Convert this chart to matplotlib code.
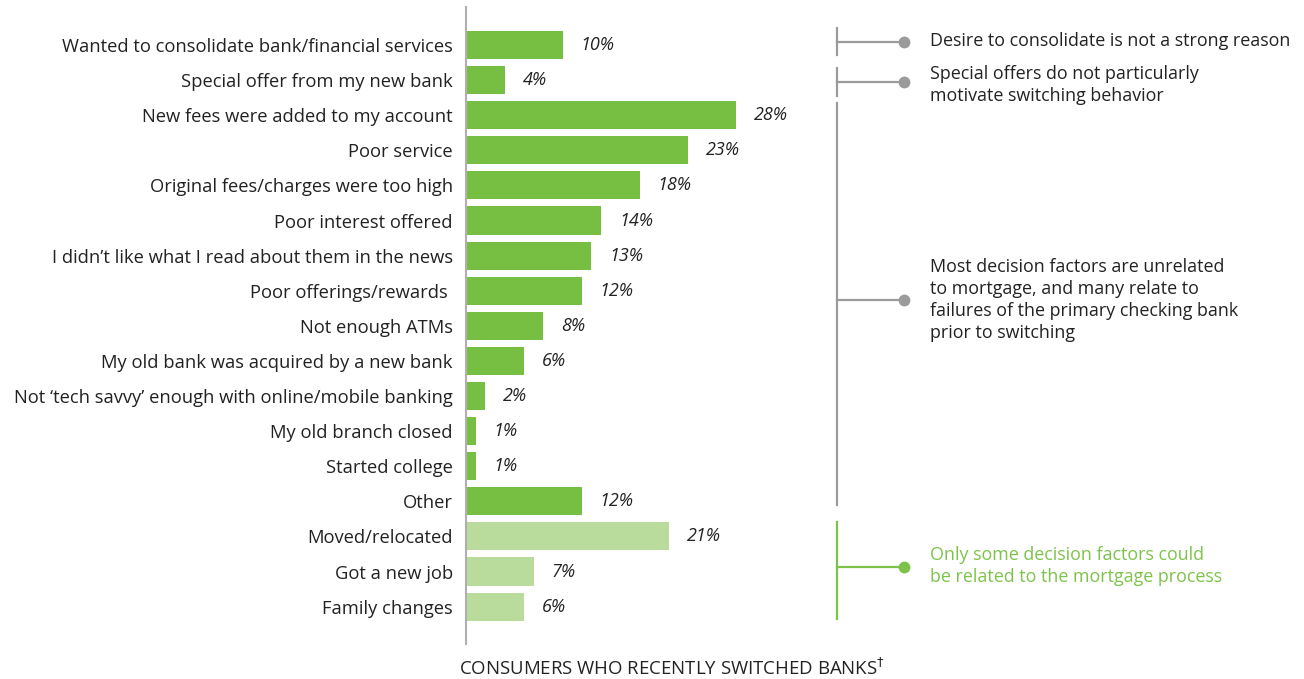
import matplotlib.pyplot as plt

plt.rcParams['font.family'] = ['Open Sans', 'DejaVu Sans']

reasons = [
    "Wanted to consolidate bank/financial services",
    "Special offer from my new bank",
    "New fees were added to my account",
    "Poor service",
    "Original fees/charges were too high",
    "Poor interest offered",
    "I didn\u2019t like what I read about them in the news",
    "Poor offerings/rewards ",
    "Not enough ATMs",
    "My old bank was acquired by a new bank",
    "Not \u2018tech savvy\u2019 enough with online/mobile banking",
    "My old branch closed",
    "Started college",
    "Other",
    "Moved/relocated",
    "Got a new job",
    "Family changes",
]
shares = [10, 4, 28, 23, 18, 14, 13, 12, 8, 6, 2, 1, 1, 12, 21, 7, 6]
# last three reasons could be tied to a mortgage / move
mortgage_related = [False] * 14 + [True] * 3

note_texts = [
    "Desire to consolidate is not a strong reason",
    "Special offers do not particularly\nmotivate switching behavior",
    "Most decision factors are unrelated\nto mortgage, and many relate to\n"
    "failures of the primary checking bank\nprior to switching",
    "Only some decision factors could\nbe related to the mortgage process",
]
GRAY = "#9b9b9b"
DARK = "#76bf43"
LIGHT = "#b9dc9d"
NOTE_GREEN = "#7dc34a"
TEXT = "#222222"

W, H = 1304, 679
ROW = 35.1   # pixel pitch of one bar row
TOP = 45     # pixel centre of first row


def row(ypix):
    return (ypix - TOP) / ROW


# bracket spans (top, bottom, elbow) in rows, and colours
note_spans = [(row(28), row(55), row(42)),
              (row(68), row(96), row(82)),
              (row(103), row(505), row(300)),
              (row(522), row(619), row(567))]
note_text_y = [row(41), row(85), row(300), row(566)]
note_line_colors = [GRAY, GRAY, GRAY, NOTE_GREEN]
note_text_colors = [TEXT, TEXT, TEXT, NOTE_GREEN]

fig = plt.figure(figsize=(W / 100, H / 100), dpi=100)
ax = fig.add_axes([466 / W, 1 - 644 / H, (W - 466) / W, 637 / H])

px = 9.65  # pixels per percentage point
ax.set_xlim(0, (W - 466) / px)
ax.set_ylim(row(644), row(7))

ypos = list(range(len(reasons)))
colors = [LIGHT if m else DARK for m in mortgage_related]
ax.barh(ypos, shares, height=0.8, color=colors)

for y, v in zip(ypos, shares):
    ax.text(v + 18 / px, y, f"{v}%", va="center", ha="left",
            fontsize=13, style="italic", color=TEXT)

ax.set_yticks(ypos)
ax.set_yticklabels(reasons, fontsize=13.2, color=TEXT)
ax.tick_params(axis="y", length=0, pad=9.5)
ax.set_xticks([])
for s in ["top", "right", "bottom"]:
    ax.spines[s].set_visible(False)
ax.spines["left"].set_color("#b0b0b0")
ax.spines["left"].set_linewidth(1.5)

# bracket notes on the right
bx = (837 - 466) / px
dx = (904 - 466) / px
tx = (930 - 466) / px
for text, (y0, y1, mid), ty, lc, tc in zip(note_texts, note_spans, note_text_y,
                                           note_line_colors, note_text_colors):
    ax.plot([bx, bx], [y0, y1], color=lc, lw=1.6, clip_on=False)
    ax.plot([bx, dx], [mid, mid], color=lc, lw=1.6, clip_on=False)
    ax.plot([dx], [mid], "o", color=lc, ms=7.5, clip_on=False)
    ax.text(tx, ty, text, va="center", ha="left", fontsize=12.9,
            color=tc, linespacing=1.3)

fig.text(672 / W, 1 - 668 / H, "CONSUMERS WHO RECENTLY SWITCHED BANKS$^{\u2020}$",
         ha="center", va="center", fontsize=13.4, color=TEXT)

fig.savefig("out.png", dpi=100)
